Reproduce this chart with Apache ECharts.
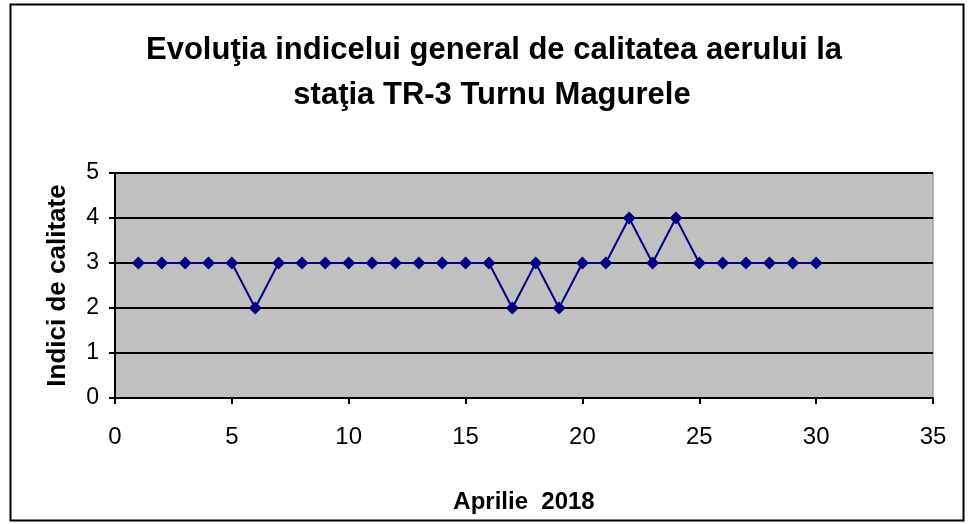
<!DOCTYPE html>
<html><head><meta charset="utf-8">
<script src="https://cdn.jsdelivr.net/npm/echarts@6/dist/echarts.min.js"></script>
<style>html,body{margin:0;padding:0;background:#fff}#c{width:968px;height:524px}</style>
</head><body><div id="c"></div>
<script>
const days = [1,2,3,4,5,6,7,8,9,10,11,12,13,14,15,16,17,18,19,20,21,22,23,24,25,26,27,28,29,30];
const values = [3,3,3,3,3,2,3,3,3,3,3,3,3,3,3,3,2,3,2,3,3,4,3,4,3,3,3,3,3,3];
const titleLines = ['Evoluţia indicelui general de calitatea aerului la','staţia TR-3 Turnu Magurele'];
const xName = 'Aprilie  2018';
const yName = 'Indici de calitate';

const chart = echarts.init(document.getElementById('c'));
const font = 'Liberation Sans, Arial, sans-serif';
chart.setOption({
  backgroundColor:'#fff',
  animation:false,
  graphic:[
    {type:'rect',shape:{x:10.5,y:4.5,width:953,height:516},style:{fill:'none',stroke:'#000',lineWidth:2},z:-1},
    {type:'text',x:494,y:50,style:{text:titleLines[0],align:'center',verticalAlign:'middle',
      font:'bold 31px Liberation Sans, Arial, sans-serif',fill:'#000'}},
    {type:'text',x:492,y:95,style:{text:titleLines[1],align:'center',verticalAlign:'middle',
      font:'bold 31px Liberation Sans, Arial, sans-serif',fill:'#000'}}
  ],
  grid:{left:115,right:35,top:173,bottom:126,show:true,backgroundColor:'#c0c0c0',borderColor:'#808080',borderWidth:1},
  xAxis:{type:'value',min:0,max:35,interval:5,name:xName,nameLocation:'middle',nameGap:92,
    nameTextStyle:{fontFamily:font,fontSize:24,fontWeight:'bold',color:'#000'},
    axisLine:{show:true,onZero:false,lineStyle:{color:'#000',width:2}},
    axisTick:{show:true,length:6,lineStyle:{color:'#000',width:2}},
    axisLabel:{fontFamily:font,fontSize:24,color:'#000',margin:27},
    splitLine:{show:false}},
  yAxis:{type:'value',min:0,max:5,interval:1,name:yName,nameLocation:'middle',nameGap:44,
    nameTextStyle:{fontFamily:font,fontSize:26,fontWeight:'bold',color:'#000'},
    axisLine:{show:true,lineStyle:{color:'#000',width:2}},
    axisTick:{show:true,length:6,lineStyle:{color:'#000',width:2}},
    axisLabel:{fontFamily:font,fontSize:23,color:'#000',margin:16},
    splitLine:{show:true,lineStyle:{color:'#000',width:2}}},
  series:[{type:'line',data:days.map((d,i)=>[d,values[i]]),symbol:'diamond',symbolSize:13,
    lineStyle:{color:'#000080',width:2},itemStyle:{color:'#000080'}}]
});
</script></body></html>
